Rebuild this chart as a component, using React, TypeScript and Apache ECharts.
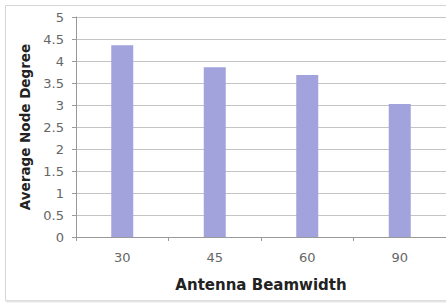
import React, { useEffect, useRef } from "react";
import * as echarts from "echarts";

const categories = ["30", "45", "60", "90"];
const values = [4.36, 3.86, 3.68, 3.02];
const yTicks = [0, 0.5, 1, 1.5, 2, 2.5, 3, 3.5, 4, 4.5, 5];

export default function App() {
  const ref = useRef<HTMLDivElement>(null);
  useEffect(() => {
    const chart = echarts.init(ref.current!, null, { renderer: "svg" });
    chart.setOption({
      animation: false,
      backgroundColor: "#ffffff",
      graphic: [
        {
          type: "rect",
          shape: { x: 5.5, y: 5.5, width: 460, height: 295 },
          style: { fill: "none", stroke: "#d4d4d4", lineWidth: 1 },
          silent: true,
        },
        {
          type: "line",
          shape: { x1: 6, y1: 301.5, x2: 446, y2: 301.5 },
          style: { stroke: "#e6e6e6", lineWidth: 2 },
          silent: true,
        },
      ],
      grid: { left: 76, top: 17, width: 370, height: 220, containLabel: false },
      xAxis: {
        type: "category",
        data: categories,
        name: "Antenna Beamwidth",
        nameLocation: "middle",
        nameGap: 40,
        nameTextStyle: { fontFamily: "DejaVu Sans", fontWeight: "bold", fontSize: 15, color: "#222" },
        axisLine: { lineStyle: { color: "#999" } },
        axisTick: { show: true, length: 4, lineStyle: { color: "#999" } },
        axisLabel: { margin: 14, fontFamily: "DejaVu Sans", fontSize: 13, color: "#666" },
      },
      yAxis: {
        type: "value",
        min: 0,
        max: 5,
        interval: 0.5,
        name: "Average Node Degree",
        nameLocation: "middle",
        nameGap: 39,
        nameTextStyle: { fontFamily: "DejaVu Sans", fontWeight: "bold", fontSize: 13.5, color: "#222" },
        axisLine: { show: true, lineStyle: { color: "#999" } },
        axisTick: { show: true, length: 4, lineStyle: { color: "#999" } },
        axisLabel: {
          margin: 12,
          fontFamily: "DejaVu Sans",
          fontSize: 13,
          color: "#666",
          formatter: (v: number) => (yTicks.includes(v) ? String(v) : ""),
        },
        splitLine: { lineStyle: { color: "#c4c4c4" } },
      },
      series: [
        {
          type: "bar",
          data: values,
          barWidth: 22,
          itemStyle: { color: "#a2a2dc" },
        },
      ],
    });
    return () => chart.dispose();
  }, []);
  return (
    <div
      ref={ref}
      style={{ position: "absolute", left: 0, top: 0, width: 446, height: 307 }}
    />
  );
}
